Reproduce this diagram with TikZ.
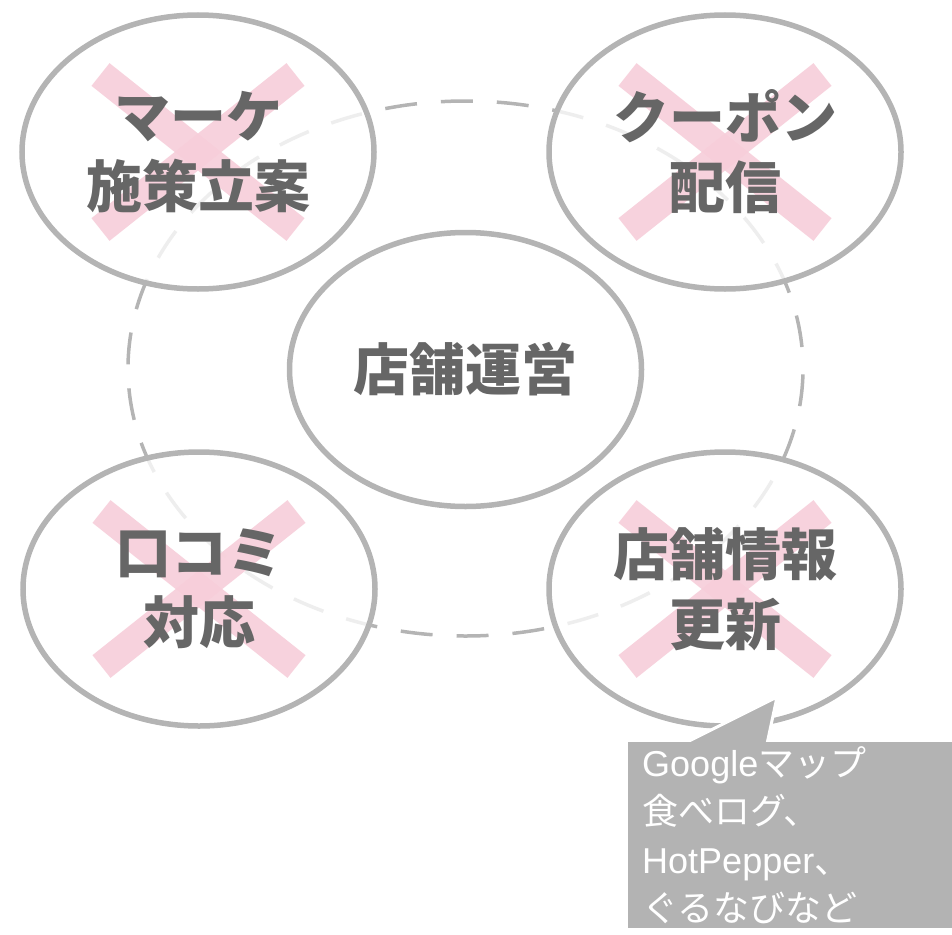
\documentclass[tikz,border=0pt]{standalone}
\usepackage{fontspec}
\newfontfamily\cjk{Noto Sans CJK JP}
\newfontfamily\lat{Liberation Sans}
\usetikzlibrary{shapes.geometric}
\definecolor{linegray}{HTML}{B4B4B4}
\definecolor{textgray}{HTML}{666666}
\definecolor{crosspink}{HTML}{F7CEDA}
\definecolor{notegray}{HTML}{B3B3B3}
\pgfdeclarelayer{ringlayer}
\pgfdeclarelayer{filllayer}
\pgfsetlayers{ringlayer,filllayer,main}
\begin{document}
\begin{tikzpicture}[x=1pt,y=-1pt,
  bubble/.style={ellipse, draw=linegray, line width=5.5pt, minimum width=352pt,
    minimum height=274pt, inner sep=0pt, align=center, text=textgray,
    font=\cjk\bfseries\fontsize{56}{70}\selectfont},
  bubblefill/.style={fill=white, fill opacity=0.78},
  crossbar/.style={draw=crosspink, line width=29pt, line cap=butt, opacity=0.9},
  ringstyle/.style={ellipse, draw=linegray, line width=3.5pt,
    dash pattern=on 32pt off 24pt, dash phase=34.5pt, minimum width=675pt,
    minimum height=535pt, inner sep=0pt},
  notebox/.style={fill=notegray, text=white, anchor=north west, text width=300pt,
    inner xsep=14pt, inner ysep=0pt, minimum height=186pt, align=left,
    font=\fontsize{36}{48.5}\selectfont},
]
\useasboundingbox (0,0) rectangle (952,934);

\begin{pgfonlayer}{ringlayer}
  \node[ringstyle] (ring) at (465.5,368.5) {};
\end{pgfonlayer}

\node[bubble] (tl) at (198,152) {マーケ\\施策立案};
\node[bubble] (tr) at (725,152) {クーポン\\配信};
\node[bubble] (bl) at (199,589) {口コミ\\対応};
\node[bubble] (br) at (725,589) {店舗情報\\更新};
\node[bubble] (center) at (465.5,369.5) {店舗運営};

\begin{pgfonlayer}{filllayer}
  \foreach \n in {tl,tr,bl,br,center}{
    \fill[bubblefill] (\n.center) ellipse [x radius=176pt, y radius=137pt];
  }
  \foreach \n in {tl,tr,bl,br}{
    \draw[crossbar] ([shift={(-97.5,-77.5)}]\n.center) -- ([shift={(97.5,77.5)}]\n.center);
    \draw[crossbar] ([shift={(97.5,-77.5)}]\n.center) -- ([shift={(-97.5,77.5)}]\n.center);
  }
\end{pgfonlayer}

\coordinate (tip) at (777,697);
\coordinate (pl) at (683,744);
\coordinate (pr) at (767,744);
\fill[notegray] (pl) -- (tip) -- (pr) -- cycle;
\draw[white, line width=3pt, line join=miter] (pl) -- (tip) -- (pr);
\node[notebox] (note) at (628,742) {{\lat Google}{\cjk マップ}\\{\cjk 食べログ、}\\{\lat HotPepper}{\cjk 、}\\{\cjk ぐるなびなど}};
\end{tikzpicture}
\end{document}
